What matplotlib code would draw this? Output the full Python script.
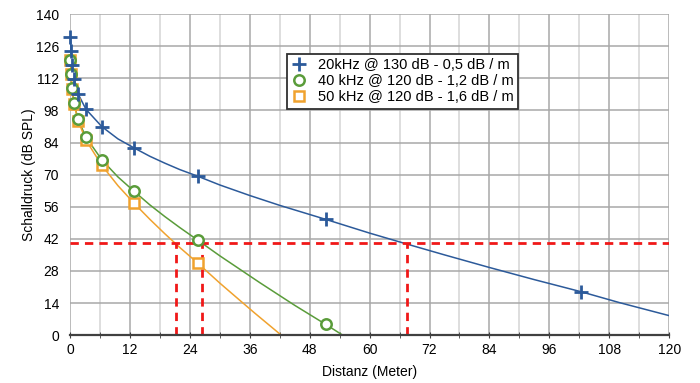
import matplotlib.pyplot as plt
from matplotlib.ticker import MultipleLocator

plt.rcParams['font.family'] = ['Liberation Sans', 'DejaVu Sans']

# --- DATOS ---
dist_pts = [0.1, 0.2, 0.4, 0.8, 1.6, 3.2, 6.4, 12.8, 25.6, 51.2, 102.4]
spl_20k = [130.0, 124.0, 117.9, 111.6, 105.3, 98.5, 90.9, 81.7, 69.3, 50.5, 18.9]
spl_40k = [120.0, 113.9, 107.6, 101.2, 94.2, 86.3, 76.4, 62.8, 41.4, 4.7]
spl_50k = [120.0, 113.8, 107.5, 100.9, 93.6, 85.0, 74.0, 57.6, 31.4]

# Kurven
line20_x = [0.1, 0.2, 0.4, 0.8, 1.6, 3.2, 6.4, 9.6, 12.8, 16, 19, 22, 25.6, 30, 36, 42,
            51.2, 60, 67.5, 75, 84, 93, 102.4, 110, 120]
line20_y = [130.0, 124.0, 117.9, 111.6, 105.3, 98.5, 90.9, 85.6, 81.7, 78.0, 75.0, 72.2,
            69.3, 65.5, 60.9, 56.6, 50.5, 44.5, 39.7, 35.0, 29.5, 24.2, 18.9, 14.2, 8.5]
line40_x = [0.1, 0.2, 0.4, 0.8, 1.6, 3.2, 6.4, 9.6, 12.8, 16, 19, 22, 25.6, 30, 38, 45, 51.2, 54.6]
line40_y = [120.0, 113.9, 107.6, 101.2, 94.2, 86.3, 76.4, 69.0, 62.8, 56.8, 51.7, 46.9,
            41.4, 34.6, 22.9, 13.0, 4.7, 0.0]
line50_x = [0.1, 0.2, 0.4, 0.8, 1.6, 3.2, 6.4, 9.6, 12.8, 16, 19, 22, 25.6, 30, 34, 37, 42.3]
line50_y = [120.0, 113.8, 107.5, 100.9, 93.6, 85.0, 74.0, 65.2, 57.6, 50.5, 44.2, 38.2,
            31.4, 22.7, 15.2, 9.6, 0.0]

limit_spl = 40
limit_dist = [21.2, 26.4, 67.5]

labels = ['20kHz @ 130 dB - 0,5 dB / m',
          '40 kHz @ 120 dB - 1,2 dB / m',
          '50 kHz @ 120 dB - 1,6 dB / m']

C_BLUE = '#2C5A9A'
C_GREEN = '#5A9C3A'
C_ORANGE = '#F0A22E'

fig = plt.figure(figsize=(7, 3.83), dpi=100)
ax = fig.add_axes([0.1, 0.125, 0.856, 0.838])

# Gitter
ax.set_xlim(0, 120)
ax.set_ylim(0, 140)
ax.xaxis.set_major_locator(MultipleLocator(12))
ax.xaxis.set_minor_locator(MultipleLocator(6))
ax.yaxis.set_major_locator(MultipleLocator(14))
ax.grid(True, which='major', color='#A8A8A8', linewidth=1.1)
ax.grid(True, which='minor', axis='x', color='#D4D4D4', linewidth=1.1)
ax.set_axisbelow(True)

# Kurven
ax.plot(line20_x, line20_y, color=C_BLUE, lw=1.1)
ax.plot(line40_x, line40_y, color=C_GREEN, lw=1.1)
ax.plot(line50_x, line50_y, color=C_ORANGE, lw=1.1)

# Messpunkte (orange unten, dann gruen, blau oben)
h50, = ax.plot(dist_pts[:len(spl_50k)], spl_50k, ls='none', marker='s', ms=7.5, mew=1.8,
               mfc='white', mec=C_ORANGE, label=labels[2], clip_on=False, zorder=3)
h40, = ax.plot(dist_pts[:len(spl_40k)], spl_40k, ls='none', marker='o', ms=7.5, mew=1.8,
               mfc='white', mec=C_GREEN, label=labels[1], clip_on=False, zorder=4)
h20, = ax.plot(dist_pts, spl_20k, ls='none', marker='+', ms=10, mew=2, color=C_BLUE,
               label=labels[0], clip_on=False, zorder=5)

# rote Grenzlinien
ax.plot([0, 120], [limit_spl, limit_spl], color='#F01818', lw=2, ls=(0, (3, 2.2)))
for d in limit_dist:
    ax.plot([d, d], [0, limit_spl], color='#F01818', lw=2, ls=(0, (3, 2.2)))

for s in ['top', 'right', 'left']:
    ax.spines[s].set_visible(False)
ax.spines['bottom'].set_color('#404040')
ax.spines['bottom'].set_linewidth(1.6)

ax.tick_params(axis='y', length=0, labelsize=10, pad=8)
ax.tick_params(axis='x', which='major', length=4, direction='inout', color='#404040', labelsize=10)
ax.tick_params(axis='x', which='minor', length=4, direction='inout', color='#404040')

ax.set_xlabel('Distanz (Meter)', fontsize=10, labelpad=6)
ax.set_ylabel('Schalldruck (dB SPL)', fontsize=10, labelpad=0)

leg = ax.legend(handles=[h20, h40, h50], loc='upper left', bbox_to_anchor=(0.35, 0.9),
                fontsize=10.5, frameon=True, fancybox=False, edgecolor='#303030', framealpha=1,
                handlelength=1.0, handletextpad=0.8, borderpad=0.3, labelspacing=0.15)
leg.get_frame().set_linewidth(1.3)

fig.savefig('out.png', dpi=100)
